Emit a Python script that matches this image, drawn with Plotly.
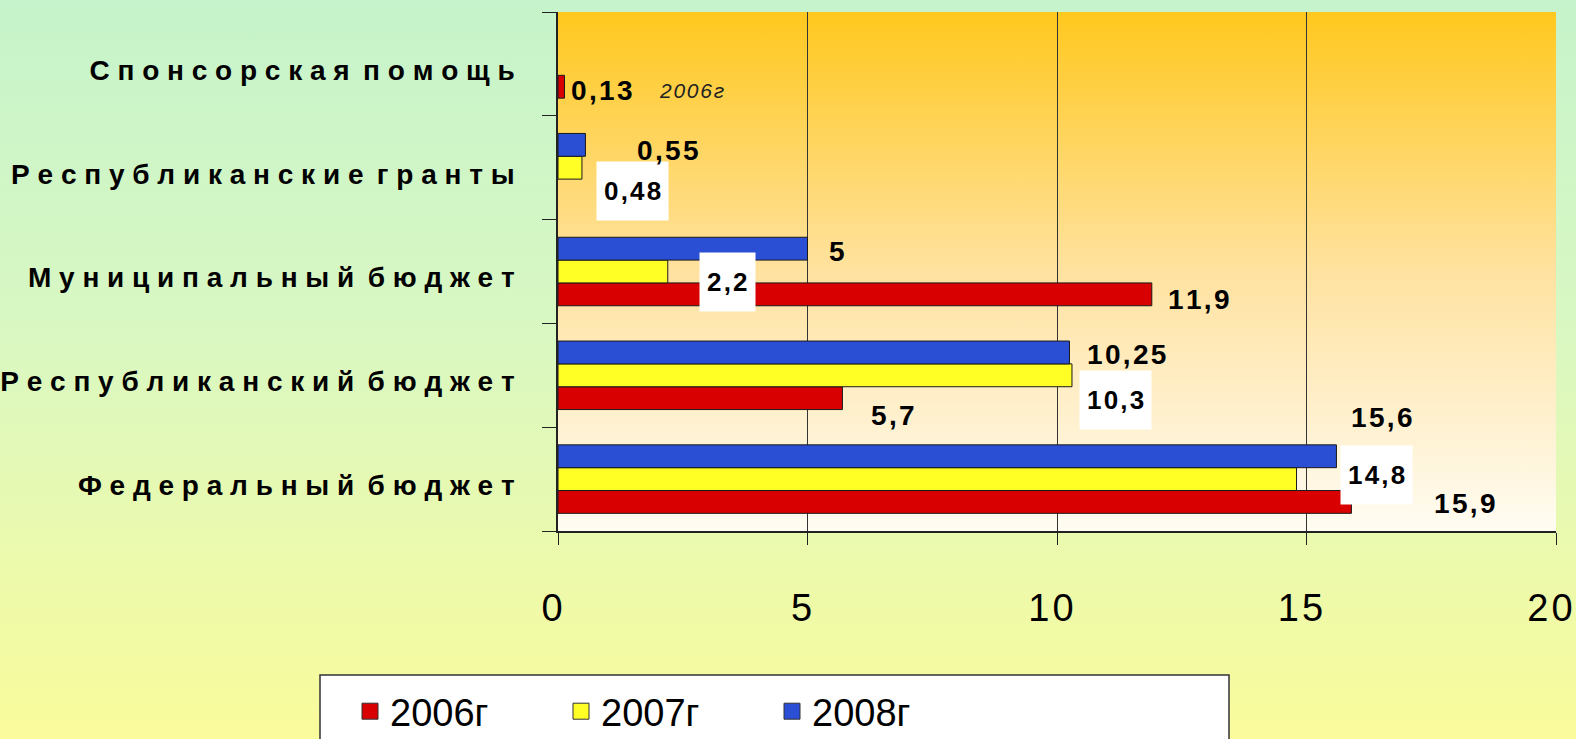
import base64
import plotly.graph_objects as go

# ---------------- data ----------------
categories = ["Федеральный бюджет", "Республиканский бюджет", "Муниципальный бюджет",
              "Республиканские гранты", "Спонсорская помощь"]
years = ["2006г", "2007г", "2008г"]
v2006 = [15.9, 5.7, 11.9, None, 0.13]
v2007 = [14.8, 10.3, 2.2, 0.48, None]
v2008 = [15.6, 10.25, 5, 0.55, None]
x_ticks = [0, 5, 10, 15, 20]
note_text = "2006г"

# ---------------- styling ----------------
W, H = 1576, 739
ML, MR, MT, MB = 558, 20, 12, 208
PW, PH = W - ML - MR, H - MT - MB

colors = {"2006г": "#d80000", "2007г": "#ffff26", "2008г": "#2a4fd4"}
SANS = "Liberation Sans, Arial, sans-serif"

# label offsets in screen pixels (dx from bar end to label left, dy down from category center)
offsets = {
    "2006г": [(81, 24), (27, 40), (14, 28), None, (5, 27)],
    "2007г": [(43, -4), (7, 25), (31, 10), (14, 23), None],
    "2008г": [(13, -62), (16, -21), (19, -20), (50, -17), None],
}
boxed = {"2006г": False, "2007г": True, "2008г": False}


def spaced(s, sep="\u00a0", wordsep="\u00a0\u2009"):
    return wordsep.join(sep.join(w) for w in s.split(" "))


def grad_uri(stops):
    st = "".join(f'<stop offset="{o}" stop-color="{c}"/>' for o, c in stops)
    svg = ('<svg xmlns="http://www.w3.org/2000/svg" width="100" height="100" preserveAspectRatio="none">'
           '<defs><linearGradient id="g" x1="0" y1="0" x2="0" y2="1">' + st +
           '</linearGradient></defs><rect width="100" height="100" fill="url(#g)"/></svg>')
    return "data:image/svg+xml;base64," + base64.b64encode(svg.encode()).decode()


series = {"2006г": v2006, "2007г": v2007, "2008г": v2008}

fig = go.Figure()
for yr in years:
    fig.add_trace(go.Bar(
        y=categories, x=series[yr], orientation="h", name=yr, showlegend=False,
        marker=dict(color=colors[yr], line=dict(color="#1a1a1a", width=1)),
        hoverinfo="x+y",
    ))
# legend entries with larger square swatches
for yr in years:
    fig.add_trace(go.Scatter(
        x=[None], y=[None], mode="markers", name=yr,
        marker=dict(symbol="square", size=21, color=colors[yr],
                    line=dict(color="#333333", width=1)),
        showlegend=True, hoverinfo="skip",
    ))

annotations = []
for yr in years:
    for cat, val, off in zip(categories, series[yr], offsets[yr]):
        if val is None or off is None:
            continue
        txt = "\u200a".join(str(val).replace(".", ","))
        ann = dict(
            x=val, y=cat, xref="x", yref="y", text=txt,
            showarrow=False, xanchor="left", yanchor="middle",
            xshift=off[0], yshift=-off[1],
            font=dict(family=SANS, size=28, color="black", weight="bold"),
        )
        if boxed[yr]:
            ann.update(bgcolor="white", borderpad=7, height=44,
                       font=dict(family=SANS, size=26, color="black", weight="bold"))
        annotations.append(ann)

# italic note next to sponsorship value
annotations.append(dict(
    x=v2006[4], y=categories[4], xref="x", yref="y",
    text="<i>" + "\u200a".join(note_text) + "</i>", showarrow=False,
    xanchor="left", yanchor="middle", xshift=93, yshift=-27,
    font=dict(family=SANS, size=21, color="#222222"),
))

page_bg = grad_uri([(0, "#c6f3cb"), (0.45, "#d9f8c2"), (1, "#fafb9b")])
plot_bg = grad_uri([(0, "#ffc81e"), (0.5, "#ffe2a0"), (1, "#fffcf2")])

fig.update_layout(
    width=W, height=H,
    margin=dict(l=ML, r=MR, t=MT, b=MB, autoexpand=False),
    paper_bgcolor="#dff8c0",
    plot_bgcolor="rgba(0,0,0,0)",
    barmode="group", bargap=0.34, bargroupgap=0,
    showlegend=True,
    legend=dict(
        orientation="h", x=(350 - ML) / PW, y=(MT + PH - 680) / PH,
        xanchor="left", yanchor="top",
        font=dict(family=SANS, size=38, color="black"),
        bgcolor="rgba(0,0,0,0)", borderwidth=0,
        entrywidth=166, traceorder="normal",
    ),
    images=[
        dict(source=page_bg, xref="paper", yref="paper",
             x=-ML / PW, y=1 + MT / PH, sizex=W / PW, sizey=H / PH,
             xanchor="left", yanchor="top", sizing="stretch", layer="below"),
        dict(source=plot_bg, xref="paper", yref="paper",
             x=0, y=1, sizex=1, sizey=1,
             xanchor="left", yanchor="top", sizing="stretch", layer="below"),
    ],
    shapes=[dict(type="rect", xref="paper", yref="paper",
                 x0=(320 - ML) / PW, x1=(1229 - ML) / PW,
                 y0=(MT + PH - 675) / PH, y1=(MT + PH - 760) / PH,
                 fillcolor="white", line=dict(color="#333333", width=1.5), layer="below")],
    annotations=annotations,
    xaxis=dict(
        range=[0, 20], tickvals=x_ticks,
        ticktext=["\u200a".join(str(v)) for v in x_ticks],
        showgrid=True, gridcolor="#333333", gridwidth=1, zeroline=False,
        showline=True, linecolor="#222222", linewidth=1.5,
        ticks="outside", ticklen=12, tickcolor="#222222",
        tickfont=dict(family=SANS, size=38, color="black"),
        ticklabelstandoff=31, ticklabelshift=-6, ticklabeloverflow="allow",
        automargin=False, fixedrange=True,
    ),
    yaxis=dict(
        categoryorder="array", categoryarray=categories,
        tickvals=categories, ticktext=[spaced(c) for c in categories],
        showline=True, linecolor="#222222", linewidth=1.5,
        ticks="outside", ticklen=14, tickcolor="#222222", tickson="boundaries",
        tickfont=dict(family=SANS, size=28, color="black", weight="bold"),
        ticklabelstandoff=36, ticklabelshift=6,
        showgrid=False, automargin=False, fixedrange=True,
    ),
)

fig.write_html("out.html", config={"displayModeBar": False},
               post_script="document.body.style.margin='0';document.body.style.overflow='hidden';")
